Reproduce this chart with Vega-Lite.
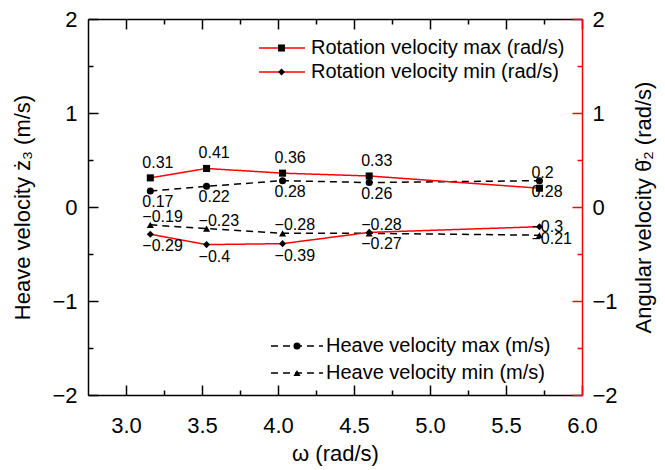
{
  "$schema": "https://vega.github.io/schema/vega-lite/v6.json",
  "width": 494,
  "height": 376,
  "autosize": "none",
  "padding": {"left": 88, "top": 19, "right": 83, "bottom": 75},
  "background": "white",
  "config": {
    "font": "Liberation Sans",
    "view": {"stroke": null},
    "axis": {
      "grid": false,
      "labelFont": "Liberation Sans",
      "labelFontSize": 22,
      "labelColor": "black",
      "titleFont": "Liberation Sans",
      "titleFontSize": 22,
      "titleFontWeight": "normal",
      "titleColor": "black",
      "domainColor": "black",
      "tickColor": "black",
      "domainWidth": 1.5,
      "tickWidth": 1.5,
      "labelFlush": false,
      "labelOverlap": false
    },
    "legend": {
      "labelFont": "Liberation Sans",
      "labelFontSize": 20,
      "labelColor": "black",
      "labelLimit": 400,
      "padding": 0
    }
  },
  "data": {
    "values": [
      {"omega": 3.16, "series": "Rotation velocity max (rad/s)", "v": 0.31},
      {"omega": 3.53, "series": "Rotation velocity max (rad/s)", "v": 0.41},
      {"omega": 4.03, "series": "Rotation velocity max (rad/s)", "v": 0.36},
      {"omega": 4.6, "series": "Rotation velocity max (rad/s)", "v": 0.33},
      {"omega": 5.72, "series": "Rotation velocity max (rad/s)", "v": 0.2},
      {"omega": 3.16, "series": "Rotation velocity min (rad/s)", "v": -0.29},
      {"omega": 3.53, "series": "Rotation velocity min (rad/s)", "v": -0.4},
      {"omega": 4.03, "series": "Rotation velocity min (rad/s)", "v": -0.39},
      {"omega": 4.6, "series": "Rotation velocity min (rad/s)", "v": -0.27},
      {"omega": 5.72, "series": "Rotation velocity min (rad/s)", "v": -0.21},
      {"omega": 3.16, "series": "Heave velocity max (m/s)", "v": 0.17},
      {"omega": 3.53, "series": "Heave velocity max (m/s)", "v": 0.22},
      {"omega": 4.03, "series": "Heave velocity max (m/s)", "v": 0.28},
      {"omega": 4.6, "series": "Heave velocity max (m/s)", "v": 0.26},
      {"omega": 5.72, "series": "Heave velocity max (m/s)", "v": 0.28},
      {"omega": 3.16, "series": "Heave velocity min (m/s)", "v": -0.19},
      {"omega": 3.53, "series": "Heave velocity min (m/s)", "v": -0.23},
      {"omega": 4.03, "series": "Heave velocity min (m/s)", "v": -0.28},
      {"omega": 4.6, "series": "Heave velocity min (m/s)", "v": -0.28},
      {"omega": 5.72, "series": "Heave velocity min (m/s)", "v": -0.3}
    ]
  },
  "resolve": {
    "scale": {"shape": "independent", "strokeDash": "independent"},
    "axis": {"x": "independent", "y": "independent"}
  },
  "layer": [
    {
      "transform": [{"filter": {"field": "series", "oneOf": ["Heave velocity max (m/s)", "Heave velocity min (m/s)"]}}],
      "mark": {"type": "line", "color": "black", "strokeWidth": 1.5},
      "encoding": {
        "x": {"field": "omega", "type": "quantitative", "scale": {"domain": [2.75, 6], "nice": false, "zero": false},
          "axis": {"orient": "bottom", "values": [3, 3.5, 4, 4.5, 5, 5.5, 6], "format": ".1f", "tickSize": -10, "labelPadding": 30, "title": "ω (rad/s)", "titlePadding": 7}},
        "y": {"field": "v", "type": "quantitative", "scale": {"domain": [-2, 2], "nice": false},
          "axis": {"orient": "left", "values": [-2, -1, 0, 1, 2], "tickSize": -10, "labelPadding": 21, "title": "Heave velocity ż₃ (m/s)", "titlePadding": 17}},
        "strokeDash": {"field": "series", "type": "nominal",
          "scale": {"domain": ["Heave velocity max (m/s)", "Heave velocity min (m/s)"], "range": [[7, 5], [7, 5]]},
          "legend": {"orient": "none", "legendX": 199, "legendY": 317, "title": null, "symbolType": "M-5.2,0H5.2", "symbolSize": 100, "symbolStrokeColor": "black", "symbolStrokeWidth": 1.5, "symbolFillColor": "transparent", "labelOffset": 19, "rowPadding": 7}}
      }
    },
    {
      "transform": [{"filter": {"field": "series", "oneOf": ["Rotation velocity max (rad/s)", "Rotation velocity min (rad/s)"]}}],
      "mark": {"type": "line", "color": "#ff0000", "strokeWidth": 1.5},
      "encoding": {
        "x": {"field": "omega", "type": "quantitative", "scale": {"domain": [2.75, 6], "nice": false, "zero": false},
          "axis": {"orient": "top", "values": [3, 3.5, 4, 4.5, 5, 5.5, 6], "labels": false, "tickSize": -10, "title": null}},
        "y": {"field": "v", "type": "quantitative", "scale": {"domain": [-2, 2], "nice": false},
          "axis": {"orient": "right", "values": [-2, -1, 0, 1, 2], "tickSize": -10, "labelPadding": 20, "domainColor": "#ff0000", "tickColor": "#ff0000", "title": "Angular velocity θ̇₂ (rad/s)", "titleAngle": 270, "titleBaseline": "top", "titlePadding": 16}},
        "strokeDash": {"field": "series", "type": "nominal",
          "scale": {"domain": ["Rotation velocity max (rad/s)", "Rotation velocity min (rad/s)"], "range": [[1, 0], [1, 0]]},
          "legend": {"orient": "none", "legendX": 184, "legendY": 19, "title": null, "symbolType": "M-4.6,0H4.6", "symbolSize": 100, "symbolStrokeColor": "#ff0000", "symbolStrokeWidth": 1.5, "symbolFillColor": "transparent", "labelOffset": 19, "rowPadding": 4}}
      }
    },
    {
      "transform": [{"filter": {"field": "series", "oneOf": ["Heave velocity max (m/s)", "Heave velocity min (m/s)"]}}],
      "mark": {"type": "point", "filled": true, "color": "black", "opacity": 1, "size": 50},
      "encoding": {
        "x": {"field": "omega", "type": "quantitative", "axis": null},
        "y": {"field": "v", "type": "quantitative", "axis": null},
        "shape": {"field": "series", "type": "nominal",
          "scale": {"domain": ["Heave velocity max (m/s)", "Heave velocity min (m/s)"], "range": ["circle", "triangle-up"]},
          "legend": {"orient": "none", "legendX": 199, "legendY": 317, "title": null, "symbolSize": 50, "symbolFillColor": "black", "symbolStrokeWidth": 0, "labelExpr": "''", "labelOffset": 19, "rowPadding": 7}}
      }
    },
    {
      "transform": [{"filter": {"field": "series", "oneOf": ["Rotation velocity max (rad/s)", "Rotation velocity min (rad/s)"]}}],
      "mark": {"type": "point", "filled": true, "color": "black", "opacity": 1, "size": 50},
      "encoding": {
        "x": {"field": "omega", "type": "quantitative", "axis": null},
        "y": {"field": "v", "type": "quantitative", "axis": null},
        "shape": {"field": "series", "type": "nominal",
          "scale": {"domain": ["Rotation velocity max (rad/s)", "Rotation velocity min (rad/s)"], "range": ["square", "diamond"]},
          "legend": {"orient": "none", "legendX": 183.5, "legendY": 19, "title": null, "symbolSize": 50, "symbolFillColor": "black", "symbolStrokeWidth": 0, "labelExpr": "''", "labelOffset": 18, "rowPadding": 4}}
      }
    },
    {
      "transform": [{"filter": {"field": "series", "equal": "Rotation velocity max (rad/s)"}}],
      "mark": {"type": "text", "align": "left", "baseline": "middle", "dx": -8, "dy": -15, "fontSize": 16, "color": "black"},
      "encoding": {
        "x": {"field": "omega", "type": "quantitative", "axis": null},
        "y": {"field": "v", "type": "quantitative", "axis": null},
        "text": {"field": "v", "type": "quantitative", "format": ".2~f"}
      }
    },
    {
      "transform": [{"filter": {"field": "series", "equal": "Heave velocity max (m/s)"}}],
      "mark": {"type": "text", "align": "left", "baseline": "middle", "dx": -8, "dy": 11, "fontSize": 16, "color": "black"},
      "encoding": {
        "x": {"field": "omega", "type": "quantitative", "axis": null},
        "y": {"field": "v", "type": "quantitative", "axis": null},
        "text": {"field": "v", "type": "quantitative", "format": ".2~f"}
      }
    },
    {
      "transform": [{"filter": {"field": "series", "equal": "Heave velocity min (m/s)"}}],
      "mark": {"type": "text", "align": "left", "baseline": "middle", "dx": -8, "dy": -8, "fontSize": 16, "color": "black"},
      "encoding": {
        "x": {"field": "omega", "type": "quantitative", "axis": null},
        "y": {"field": "v", "type": "quantitative", "axis": null},
        "text": {"field": "v", "type": "quantitative", "format": ".2~f"}
      }
    },
    {
      "transform": [{"filter": {"field": "series", "equal": "Rotation velocity min (rad/s)"}}],
      "mark": {"type": "text", "align": "left", "baseline": "middle", "dx": -8, "dy": 12, "fontSize": 16, "color": "black"},
      "encoding": {
        "x": {"field": "omega", "type": "quantitative", "axis": null},
        "y": {"field": "v", "type": "quantitative", "axis": null},
        "text": {"field": "v", "type": "quantitative", "format": ".2~f"}
      }
    },
    {
      "mark": {"type": "point", "opacity": 0},
      "encoding": {
        "x": {"field": "omega", "type": "quantitative",
          "axis": {"orient": "bottom", "values": [3.25, 3.75, 4.25, 4.75, 5.25, 5.75], "labels": false, "domain": false, "tickSize": -5, "title": null}},
        "y": {"field": "v", "type": "quantitative",
          "axis": {"orient": "left", "values": [-1.5, -0.5, 0.5, 1.5], "labels": false, "domain": false, "tickSize": -5, "title": null}}
      }
    },
    {
      "mark": {"type": "point", "opacity": 0},
      "encoding": {
        "x": {"field": "omega", "type": "quantitative",
          "axis": {"orient": "top", "values": [3.25, 3.75, 4.25, 4.75, 5.25, 5.75], "labels": false, "domain": false, "tickSize": -5, "title": null}},
        "y": {"field": "v", "type": "quantitative",
          "axis": {"orient": "right", "values": [-1.5, -0.5, 0.5, 1.5], "labels": false, "domain": false, "tickSize": -5, "tickColor": "#ff0000", "title": null}}
      }
    }
  ]
}
